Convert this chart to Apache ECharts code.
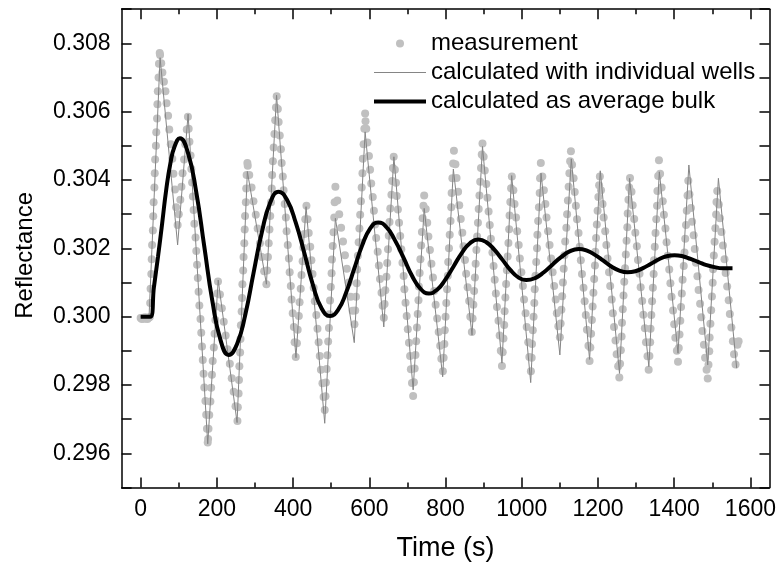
<!DOCTYPE html>
<html>
<head>
<meta charset="utf-8">
<script src="https://cdn.jsdelivr.net/npm/echarts@6/dist/echarts.min.js"></script>
<style>html,body{margin:0;padding:0;background:#fff}#c{width:779px;height:568px}</style>
</head>
<body>
<div id="c"></div>
<script>
// ---- tick labels ----
const xMajorTicks = [0,200,400,600,800,1000,1200,1400,1600];
const xMinorTicks = [100,300,500,700,900,1100,1300,1500];
const yLabelValues = [0.296,0.298,0.300,0.302,0.304,0.306,0.308];
const seriesNames = ['measurement','calculated with individual wells','calculated as average bulk'];

// ---- calculated as average bulk ----
const bulk = [
[0,.30000],[25,.30000],[35,.30088],[45.6,.30176],[56.4,.30273],[67,.30371],[78,.30449],[89,.30498],[103,.30522],
[124,.30480],[146,.30364],[167,.30205],[188,.30047],[210,.29930],[231,.29888],
[253,.29920],[275,.30008],[296,.30127],[318,.30247],[340,.30334],[362,.30366],
[384,.30342],[407,.30275],[430,.30184],[452,.30093],[474,.30026],[497,.30002],
[518,.30020],[539,.30070],[560,.30139],[581,.30208],[602,.30258],[623,.30276],
[645,.30262],[667,.30224],[690,.30172],[712,.30120],[734,.30082],[756,.30068],
[778,.30079],[799,.30108],[821,.30147],[843,.30187],[864,.30215],[886,.30226],
[907,.30218],[928,.30196],[949,.30167],[970,.30137],[991,.30115],[1012,.30107],
[1035,.30113],[1058,.30130],[1081,.30153],[1104,.30175],[1127,.30192],[1150,.30198],
[1171,.30193],[1192,.30181],[1214,.30164],[1235,.30147],[1256,.30135],[1277,.30130],
[1298,.30133],[1318,.30142],[1339,.30155],[1360,.30168],[1380,.30177],[1401,.30180],
[1422,.30177],[1443,.30169],[1464,.30160],[1485,.30151],[1506,.30145],[1527,.30142],[1553,.30142]
];

// ---- calculated with individual wells (vertices of the zig-zag) ----
const wells = [
[0,.30000],[22,.30000],[51,.30758],[97,.30210],[124.5,.30593],[176,.29628],[203.5,.30107],[253,.29690],
[280,.30425],[330,.30095],[356.6,.30648],[407.5,.29880],[434,.30322],[483,.29688],[511,.30288],[560.5,.29924],
[589,.30541],[638,.29970],[664.5,.30468],[715,.29786],[744,.30317],[792.5,.29824],[820.5,.30432],[869.5,.29946],
[897,.30498],[948,.29864],[973.5,.30413],[1023.5,.29807],[1050.5,.30420],[1100,.29888],[1130,.30462],[1178,.29875],
[1206,.30427],[1256.5,.29834],[1283,.30405],[1333.5,.29854],[1361,.30424],[1410,.29893],[1438.5,.30444],[1488,.29859],
[1516,.30405],[1564,.29849]
];

// ---- measurement ----
const measurement = [
[0,.29996],[3,.29993],[6,.29997],[9,.29994],[12,.29998],[15,.29995],[18,.29993],[21,.29997],[24,.29999],
[25,.30040],[26,.30082],[28,.30125],[29,.30168],[30,.30210],[32,.30252],[33,.30294],[34,.30335],[36,.30378],[37,.30420],[38,.30460],[40,.30500],[41,.30540],[43,.30580],[44,.30622],[45,.30660],[47,.30700],[48,.30740],[50,.30772],[51,.30766],
[54,.30742],[57,.30715],[61,.30688],[65,.30660],[68,.30625],[72,.30588],[75,.30548],[79,.30505],[83,.30462],[86,.30418],[90,.30372],[93,.30320],[97,.30268],
[100,.30300],[104,.30342],[107,.30380],[110,.30420],[114,.30460],[117,.30505],[121,.30548],[124,.30585],
[126,.30550],[128,.30512],[131,.30472],[133,.30432],[135,.30393],[137,.30352],[139,.30312],[141,.30272],[144,.30232],[146,.30192],[148,.30152],[150,.30113],[152,.30073],[154,.30033],[157,.29993],[159,.29953],[161,.29913],[163,.29873],[165,.29833],[167,.29793],[170,.29753],[172,.29713],[174,.29672],[176,.29632],[177,.29642],
[178,.29672],[180,.29712],[183,.29752],[185,.29792],[187,.29830],[189,.29870],[192,.29910],[194,.29950],[196,.29990],[198,.30030],[201,.30068],[203,.30103],
[208,.30065],[213,.30025],[218,.29985],[223,.29945],[228,.29905],[234,.29862],[239,.29820],[244,.29780],[249,.29738],[254,.29695],
[255,.29735],[257,.29775],[258,.29815],[259,.29855],[261,.29895],[262,.29935],[263,.29975],[265,.30015],[266,.30055],[267,.30095],[269,.30135],[270,.30175],[272,.30215],[273,.30255],[274,.30295],[276,.30335],[277,.30375],[278,.30415],[280,.30450],[281,.30442],
[285,.30415],[291,.30378],[296,.30338],[302,.30298],[307,.30258],[313,.30215],[318,.30175],[324,.30133],[330,.30095],
[332,.30135],[334,.30175],[336,.30215],[338,.30255],[340,.30295],[342,.30335],[344,.30375],[345,.30415],[347,.30455],[349,.30495],[351,.30535],[353,.30575],[355,.30612],[357,.30645],
[360,.30608],[362,.30570],[365,.30530],[368,.30490],[370,.30450],[373,.30410],[375,.30370],[378,.30330],[381,.30290],[383,.30250],[386,.30210],[389,.30170],[391,.30130],[394,.30090],[396,.30050],[399,.30010],[402,.29970],[404,.29925],[407,.29882],
[410,.29922],[412,.29962],[415,.30002],[417,.30042],[420,.30082],[422,.30122],[425,.30162],[427,.30202],[430,.30242],[432,.30285],[435,.30325],
[438,.30285],[441,.30245],[445,.30205],[448,.30165],[451,.30125],[454,.30085],[457,.30045],[461,.30005],[464,.29965],[467,.29925],[470,.29885],[473,.29845],[477,.29805],[480,.29765],[483,.29727],
[485,.29767],[486,.29807],[488,.29847],[490,.29887],[492,.29927],[494,.29967],[495,.30007],[497,.30047],[499,.30087],[501,.30127],[502,.30167],[504,.30207],[506,.30247],[508,.30290],[509,.30335],[511,.30380],
[516,.30340],[521,.30300],[526,.30260],[531,.30220],[536,.30180],[541,.30140],[546,.30100],[551,.30058],[556,.30017],[561,.29978],
[563,.30018],[565,.30058],[567,.30098],[568,.30138],[570,.30178],[572,.30218],[574,.30258],[576,.30298],[578,.30338],[580,.30378],[582,.30420],[583,.30462],[585,.30505],[587,.30550],[589,.30595],[590,.30572],
[592,.30550],[595,.30510],[599,.30470],[602,.30430],[605,.30390],[609,.30350],[612,.30310],[615,.30270],[618,.30230],[622,.30190],[625,.30150],[628,.30110],[632,.30070],[635,.30032],[638,.29997],
[640,.30037],[642,.30077],[645,.30117],[647,.30157],[649,.30197],[651,.30237],[653,.30277],[655,.30317],[658,.30357],[660,.30397],[662,.30435],[664,.30468],
[667,.30430],[670,.30392],[672,.30353],[675,.30314],[678,.30275],[681,.30236],[684,.30197],[687,.30158],[690,.30119],[692,.30080],[695,.30041],[698,.30002],[701,.29963],[704,.29924],[707,.29885],[709,.29846],[712,.29806],[715,.29768],
[717,.29808],[719,.29848],[721,.29888],[723,.29928],[725,.29968],[727,.30008],[729,.30048],[730,.30088],[732,.30128],[734,.30168],[736,.30208],[738,.30248],[740,.30288],[742,.30325],[744,.30355],
[748,.30315],[752,.30275],[755,.30235],[759,.30195],[763,.30155],[767,.30115],[770,.30075],[774,.30035],[778,.29995],[782,.29955],[786,.29915],[789,.29877],[793,.29840],
[795,.29880],[797,.29920],[798,.29960],[800,.30000],[802,.30040],[804,.30080],[806,.30120],[807,.30160],[809,.30200],[811,.30240],[813,.30280],[815,.30320],[816,.30362],[818,.30405],[820,.30448],[822,.30486],
[826,.30446],[829,.30406],[833,.30366],[836,.30326],[840,.30286],[844,.30246],[847,.30206],[851,.30166],[854,.30126],[858,.30086],[862,.30046],[865,.30000],[869,.29955],
[871,.29995],[873,.30035],[875,.30075],[877,.30115],[879,.30155],[881,.30195],[883,.30235],[885,.30275],[887,.30315],[889,.30355],[891,.30395],[893,.30435],[895,.30475],[897,.30507],
[900,.30468],[903,.30428],[907,.30388],[910,.30348],[913,.30308],[916,.30268],[919,.30228],[923,.30188],[926,.30148],[929,.30108],[932,.30068],[935,.30028],[939,.29988],[942,.29945],[945,.29900],[948,.29856],
[950,.29896],[952,.29936],[954,.29976],[955,.30016],[957,.30056],[959,.30096],[961,.30136],[963,.30176],[965,.30216],[967,.30256],[968,.30296],[970,.30336],[972,.30376],[974,.30410],
[978,.30370],[981,.30330],[985,.30290],[988,.30250],[992,.30210],[995,.30170],[999,.30130],[1003,.30090],[1006,.30050],[1010,.30010],[1013,.29970],[1017,.29925],[1020,.29882],[1024,.29840],
[1026,.29880],[1027,.29920],[1029,.29960],[1031,.30000],[1033,.30040],[1034,.30080],[1036,.30120],[1038,.30160],[1040,.30200],[1041,.30240],[1043,.30280],[1045,.30320],[1047,.30362],[1048,.30405],[1050,.30450],
[1054,.30410],[1058,.30370],[1062,.30330],[1065,.30290],[1069,.30250],[1073,.30210],[1077,.30170],[1081,.30130],[1085,.30090],[1089,.30050],[1092,.30010],[1096,.29972],[1100,.29940],
[1102,.29980],[1104,.30020],[1106,.30060],[1108,.30100],[1110,.30140],[1112,.30180],[1114,.30220],[1117,.30260],[1119,.30300],[1121,.30340],[1123,.30380],[1125,.30420],[1127,.30455],[1129,.30484],
[1132,.30445],[1136,.30405],[1139,.30365],[1142,.30325],[1145,.30285],[1149,.30245],[1152,.30205],[1155,.30165],[1158,.30125],[1162,.30085],[1165,.30045],[1168,.30005],[1171,.29962],[1175,.29915],[1178,.29870],
[1180,.29910],[1182,.29950],[1184,.29990],[1186,.30030],[1188,.30070],[1190,.30110],[1192,.30150],[1193,.30190],[1195,.30230],[1197,.30270],[1199,.30310],[1201,.30350],[1203,.30385],[1205,.30410],
[1208,.30370],[1212,.30330],[1215,.30290],[1219,.30250],[1222,.30210],[1225,.30170],[1229,.30130],[1232,.30090],[1236,.30050],[1239,.30010],[1242,.29970],[1246,.29930],[1249,.29890],[1253,.29855],[1256,.29822],
[1258,.29862],[1260,.29902],[1262,.29942],[1263,.29982],[1265,.30022],[1267,.30062],[1269,.30102],[1271,.30142],[1273,.30182],[1275,.30222],[1277,.30262],[1278,.30302],[1280,.30342],[1282,.30378],[1284,.30406],
[1288,.30366],[1291,.30326],[1295,.30286],[1298,.30246],[1302,.30206],[1305,.30166],[1309,.30126],[1312,.30086],[1316,.30046],[1319,.30006],[1323,.29966],[1326,.29925],[1330,.29884],[1333,.29845],
[1335,.29885],[1337,.29925],[1338,.29965],[1340,.30005],[1342,.30045],[1344,.30085],[1346,.30125],[1347,.30165],[1349,.30205],[1351,.30245],[1353,.30285],[1355,.30325],[1356,.30368],[1358,.30412],[1360,.30458],
[1363,.30418],[1367,.30378],[1370,.30338],[1373,.30298],[1377,.30258],[1380,.30218],[1383,.30178],[1387,.30138],[1390,.30098],[1393,.30058],[1397,.30018],[1400,.29978],[1403,.29938],[1407,.29900],[1410,.29868],
[1412,.29908],[1414,.29948],[1416,.29988],[1418,.30028],[1420,.30068],[1422,.30108],[1425,.30148],[1427,.30188],[1429,.30228],[1431,.30268],[1433,.30310],[1435,.30355],[1437,.30398],
[1440,.30358],[1444,.30318],[1447,.30278],[1451,.30238],[1454,.30198],[1457,.30158],[1461,.30118],[1464,.30078],[1468,.30038],[1471,.29998],[1474,.29958],[1478,.29918],[1481,.29880],[1485,.29845],[1488,.29819],
[1490,.29859],[1492,.29899],[1493,.29939],[1495,.29979],[1497,.30019],[1499,.30059],[1501,.30099],[1502,.30139],[1504,.30179],[1506,.30219],[1508,.30259],[1510,.30299],[1511,.30336],[1513,.30368],
[1517,.30328],[1520,.30288],[1524,.30248],[1528,.30208],[1532,.30168],[1535,.30128],[1539,.30088],[1543,.30048],[1546,.30008],[1550,.29968],[1554,.29928],[1557,.29890],[1561,.29860],
[1566,.29918],[1569,.29928]
];

const FONT = 'Liberation Sans, Arial, Helvetica, sans-serif';
const chart = echarts.init(document.getElementById('c'), null, {renderer: 'canvas'});
const axisLine = {show: true, onZero: false, lineStyle: {color: '#000', width: 1.5}};
function xAxisDef(pos, ticks, len, withLabels, withLine) {
  return {
    type: 'value', position: pos, offset: 0, min: -50, max: 1650, gridIndex: 0,
    axisLine: withLine ? axisLine : {show: false, onZero: false},
    axisTick: {show: true, inside: true, length: len, customValues: ticks, lineStyle: {color: '#000', width: 1.5}},
    axisLabel: withLabels ? {show: true, customValues: ticks, fontSize: 23, color: '#000', fontFamily: FONT, margin: 11,
      formatter: function (v) { return String(v); }} : {show: false},
    splitLine: {show: false},
    name: withLabels ? 'Time (s)' : '',
    nameLocation: 'middle', nameGap: 48,
    nameTextStyle: {fontSize: 27, color: '#000', fontFamily: FONT}
  };
}
function yAxisDef(pos, withLabels) {
  return {
    type: 'value', position: pos, offset: 0, min: 0.295, max: 0.309, interval: 0.001,
    axisLine: axisLine,
    axisTick: {show: true, inside: true, length: 10, lineStyle: {color: '#000', width: 1.5}},
    axisLabel: withLabels ? {
      show: true, fontSize: 23, color: '#000', fontFamily: FONT, margin: 11,
      formatter: function (v) {
        const hit = yLabelValues.find(function (u) { return Math.abs(u - v) < 1e-7; });
        return hit === undefined ? '' : hit.toFixed(3);
      }
    } : {show: false},
    splitLine: {show: false},
    name: withLabels ? 'Reflectance' : '',
    nameLocation: 'middle', nameGap: 84, nameRotate: 90,
    nameTextStyle: {fontSize: 24, color: '#000', fontFamily: FONT, padding: [0, 0, 0, -14]}
  };
}

chart.setOption({
  animation: false,
  backgroundColor: '#fff',
  grid: {left: 121.6, right: 9, top: 9.2, bottom: 80.5, containLabel: false},
  xAxis: [
    xAxisDef('bottom', xMajorTicks, 10, true, true),
    xAxisDef('bottom', xMinorTicks, 5, false, false),
    xAxisDef('top', xMajorTicks, 10, false, true),
    xAxisDef('top', xMinorTicks, 5, false, false)
  ],
  yAxis: [yAxisDef('left', true), yAxisDef('right', false)],
  legend: {
    orient: 'vertical', left: 369, top: 26.5, itemWidth: 52, itemHeight: 8, itemGap: 5,
    symbolKeepAspect: true,
    textStyle: {fontSize: 24, color: '#000', fontFamily: FONT},
    data: [
      {name: seriesNames[0], icon: 'circle'},
      {name: seriesNames[1], icon: 'path://M0,0H52V1H0Z'},
      {name: seriesNames[2], icon: 'path://M0,0H52V4H0Z'}
    ],
    selectedMode: false
  },
  series: [
    {
      name: seriesNames[0], type: 'scatter', data: measurement, symbol: 'circle', symbolSize: 8,
      itemStyle: {color: '#c0c0c0', opacity: 1}, silent: true, z: 1
    },
    {
      name: seriesNames[1], type: 'line', data: wells, showSymbol: false, symbol: 'none',
      lineStyle: {color: '#858585', width: 1}, itemStyle: {color: '#858585'}, silent: true, z: 2
    },
    {
      name: seriesNames[2], type: 'line', data: bulk, showSymbol: false, symbol: 'none', smooth: 0.5,
      lineStyle: {color: '#000', width: 4}, itemStyle: {color: '#000'}, silent: true, z: 3
    }
  ]
});
</script>
</body>
</html>
